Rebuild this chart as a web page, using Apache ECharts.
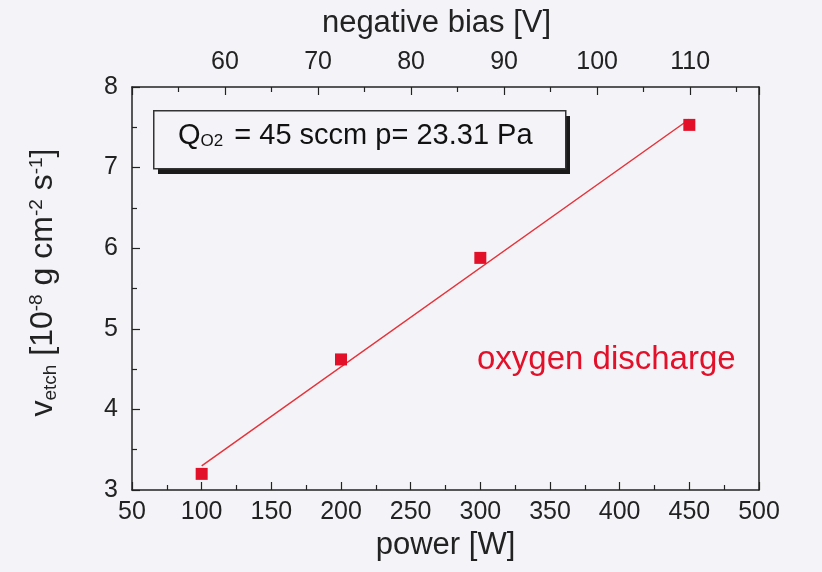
<!DOCTYPE html>
<html>
<head>
<meta charset="utf-8">
<script src="https://cdn.jsdelivr.net/npm/echarts@6/dist/echarts.min.js"></script>
<style>
    html, body { margin: 0; padding: 0; background: #f4f4f8; }
    #chart { width: 822px; height: 572px; }
</style>
</head>
<body>
<div id="chart"></div>
<script>
// measured points: power [W] -> etch rate [1e-8 g cm^-2 s^-1]
var power = [100, 200, 300, 450];
var etchRate = [3.2, 4.62, 5.88, 7.53];

// straight fit line through the points (end points)
var fitPower = [100, 450];
var fitRate = [3.3, 7.6];

var FONT = "'Liberation Sans', Arial, sans-serif";
var INK = '#222';
var RED = '#e3102a';

var chart = echarts.init(document.getElementById('chart'));

function pairs(xs, ys) {
    var out = [];
    for (var i = 0; i < xs.length; i++) {
        out.push([xs[i], ys[i]]);
    }
    return out;
}

function axis(extra) {
    var base = {
        axisLine: { show: true, onZero: false, lineStyle: { color: INK, width: 1.5 } },
        axisTick: { show: true, inside: true, length: 8, lineStyle: { color: INK, width: 1.2 } },
        minorTick: { show: true, splitNumber: 2, length: 5, lineStyle: { color: INK, width: 1.2 } },
        splitLine: { show: false },
        axisLabel: { color: INK, fontSize: 25, fontFamily: FONT, margin: 10 },
        nameTextStyle: { color: INK, fontSize: 31, fontFamily: FONT }
    };
    return Object.assign(base, extra);
}

var option = {
    backgroundColor: '#f4f4f8',
    animation: false,
    grid: { left: 132, right: 63, top: 87, bottom: 82 },
    xAxis: [
        axis({
            type: 'value', position: 'bottom', min: 50, max: 500, interval: 50,
            name: 'power [W]', nameLocation: 'middle', nameGap: 40
        }),
        axis({
            type: 'value', position: 'top', min: 50, max: 117.4, interval: 10,
            name: 'negative bias [V]', nameLocation: 'middle', nameGap: 48,
            nameTextStyle: { color: INK, fontSize: 31, fontFamily: FONT, padding: [0, 18, 0, 0] },
            axisLabel: {
                color: INK, fontSize: 25, fontFamily: FONT, margin: 12,
                formatter: function (v) {
                    return (v > 50 && v % 10 === 0) ? String(v) : '';
                }
            }
        })
    ],
    yAxis: [
        axis({
            type: 'value', position: 'left', min: 3, max: 8, interval: 1,
            name: '{n|v}{sub|etch}{n| [10}{sup|-8}{n| g cm}{sup|-2}{n| s}{sup|-1}{n|]}',
            nameLocation: 'middle', nameGap: 72, nameRotate: 90,
            axisLabel: { color: INK, fontSize: 25, fontFamily: FONT, margin: 14 },
            nameTextStyle: {
                color: INK,
                padding: [0, 0, 0, 12],
                rich: {
                    n: { fontSize: 32, fontFamily: FONT, color: INK },
                    sub: { fontSize: 19, fontFamily: FONT, color: INK, verticalAlign: 'bottom', padding: [14, 0, 0, 0] },
                    sup: { fontSize: 19, fontFamily: FONT, color: INK, verticalAlign: 'top', padding: [0, 0, 14, 0] }
                }
            }
        }),
        {
            type: 'value', position: 'right', min: 3, max: 8,
            axisLine: { show: true, onZero: false, lineStyle: { color: INK, width: 1.5 } },
            axisTick: { show: false },
            axisLabel: { show: false },
            splitLine: { show: false }
        }
    ],
    graphic: [
        { // drop shadow of the label box
            type: 'rect', left: 158, top: 116, z: 50,
            shape: { width: 412, height: 58 },
            style: { fill: '#1a1a1a' }
        },
        {
            type: 'rect', left: 153, top: 110, z: 51,
            shape: { width: 412, height: 58 },
            style: { fill: '#f4f4f8', stroke: '#333', lineWidth: 1.5 }
        },
        {
            type: 'text', left: 178, top: 121, z: 52,
            style: {
                text: '{n|Q}{sub|O2}{n| = 45 sccm p= 23.31 Pa}',
                rich: {
                    n: { fontSize: 29, fontFamily: FONT, fill: '#111' },
                    sub: { fontSize: 17, fontFamily: FONT, fill: '#111', verticalAlign: 'bottom', padding: [12, 3, 0, 0] }
                }
            }
        },
        {
            type: 'text', left: 477, top: 343, z: 52,
            style: {
                text: 'oxygen discharge',
                fontSize: 33, fontFamily: FONT,
                fill: RED
            }
        }
    ],
    series: [
        {
            name: 'fit',
            type: 'line',
            xAxisIndex: 0, yAxisIndex: 0,
            data: pairs(fitPower, fitRate),
            symbol: 'none',
            lineStyle: { color: '#e6323a', width: 1.5 },
            z: 3
        },
        {
            name: 'oxygen discharge',
            type: 'scatter',
            xAxisIndex: 0, yAxisIndex: 0,
            data: pairs(power, etchRate),
            symbol: 'rect',
            symbolSize: 12,
            itemStyle: { color: RED, opacity: 1 },
            z: 4
        }
    ]
};

chart.setOption(option);
</script>
</body>
</html>
